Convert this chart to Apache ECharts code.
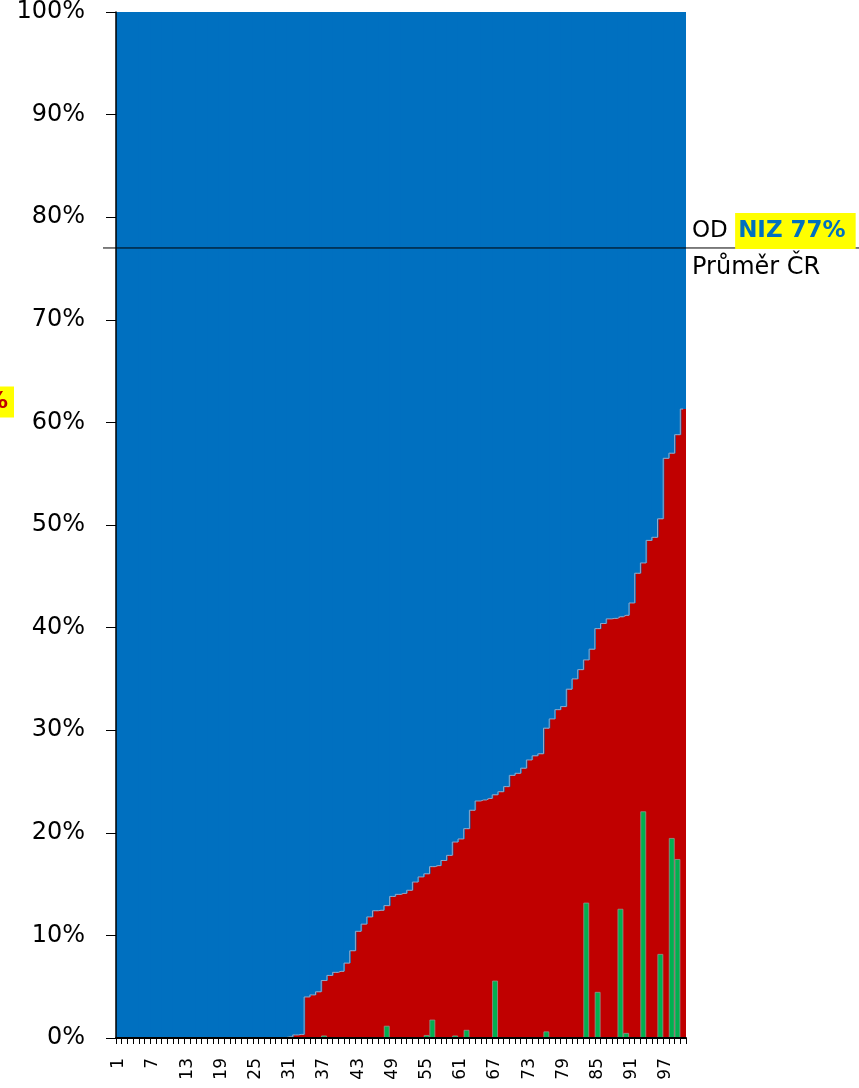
<!DOCTYPE html>
<html><head><meta charset="utf-8">
<script src="https://cdn.jsdelivr.net/npm/echarts@6/dist/echarts.min.js"></script>
<style>html,body{margin:0;padding:0;background:#fff}#c{width:859px;height:1088px}</style>
</head><body><div id="c"></div>
<script>
// ---- data ----
const categories = Array.from({length: 100}, (_, i) => String(i + 1));
const redShare = [
  0,0,0,0,0,0,0,0,0,0,
  0,0,0,0,0,0,0,0,0,0,
  0,0,0,0,0,0,0,0,0,0,
  0.1,0.3,0.35,4.0,4.2,4.5,5.6,6.1,6.4,6.5,
  7.3,8.5,10.4,11.1,11.8,12.4,12.45,12.9,13.8,14.0,
  14.1,14.4,15.2,15.7,16.0,16.7,16.8,17.3,17.8,19.1,
  19.4,20.4,22.2,23.1,23.2,23.35,23.7,24.0,24.5,25.6,
  25.8,26.3,27.1,27.5,27.7,30.2,31.1,32.0,32.3,34.0,
  35.0,35.9,36.85,37.9,39.9,40.4,40.85,40.9,41.05,41.2,
  42.4,45.3,46.3,48.5,48.8,50.6,56.5,57.0,58.8,61.3
];
const greenShare = [
  null,null,null,null,null,null,null,null,null,null,
  null,null,null,null,null,null,null,null,null,null,
  null,null,null,null,null,null,null,null,null,null,
  0.15,null,null,null,null,null,0.25,null,null,null,
  null,null,null,null,null,null,null,1.2,null,null,
  null,null,null,null,0.3,1.8,null,null,null,0.25,
  null,0.8,null,null,null,null,5.6,null,null,null,
  null,null,null,null,null,0.65,null,null,null,null,
  null,null,13.2,null,4.5,null,null,null,12.6,0.5,
  null,null,22.1,null,null,8.2,null,19.5,17.45,null
];
const blueShare = redShare.map(v => +(100 - v).toFixed(2));
const averageValue = 77;
const averagePrefix = 'OD ';
const averageName = 'NIZ 77%';
const averageSub = 'Průměr ČR';
const leftLabelText = '61%';

// ---- chart ----
const FONT = 'DejaVu Sans';
const BARW = 6.9;
const chart = echarts.init(document.getElementById('c'), null, {renderer: 'canvas'});
chart.setOption({
  animation: false,
  backgroundColor: '#ffffff',
  grid: [
    {left: 116, right: 173, top: 12, bottom: 50, outerBoundsMode: 'none'},
    {left: 103, right: 0, top: 12, bottom: 50, outerBoundsMode: 'none'}
  ],
  xAxis: [
    {type: 'category', data: categories, gridIndex: 0, z: 10,
     axisLine: {lineStyle: {color: '#000', width: 2}},
     axisTick: {show: true, interval: 0, length: 6, lineStyle: {color: '#000', width: 1}},
     axisLabel: {interval: 5, rotate: 90, margin: 20, color: '#000', fontFamily: FONT, fontSize: 17}},
    {type: 'value', gridIndex: 1, min: 0, max: 1, show: false}
  ],
  yAxis: [
    {type: 'value', gridIndex: 0, min: 0, max: 100, interval: 10, z: 10,
     axisLine: {show: true, lineStyle: {color: '#000', width: 1.5}},
     axisTick: {show: true, length: 10, lineStyle: {color: '#000', width: 1}},
     axisLabel: {formatter: '{value}%', margin: 31, color: '#000', fontFamily: FONT, fontSize: 24},
     splitLine: {show: false}},
    {type: 'value', gridIndex: 1, min: 0, max: 100, show: false}
  ],
  series: [
    {name: 'red', type: 'bar', stack: 'share', data: redShare,
     barWidth: BARW, barGap: '-100%',
     itemStyle: {color: '#C00000'}},
    {name: 'blue', type: 'bar', stack: 'share', data: blueShare,
     barWidth: BARW, itemStyle: {color: '#0070C0'}},
    {name: 'edge', type: 'line', data: redShare, step: 'middle', symbol: 'none', silent: true,
     lineStyle: {color: '#8fa8c8', width: 1}, z: 3},
    {name: 'green', type: 'bar', data: greenShare, barWidth: 6, barGap: '-100%',
     itemStyle: {color: '#00B050', borderColor: 'rgba(150,150,150,0.75)', borderWidth: 1}, z: 4},
    {name: 'avg', type: 'line', xAxisIndex: 1, yAxisIndex: 1, silent: true, symbol: 'none',
     data: [[0, averageValue], [1, averageValue]],
     lineStyle: {color: '#000', width: 1}, z: 6}
  ]
});

const yAvg = chart.convertToPixel({yAxisIndex: 0}, averageValue);
chart.setOption({
  graphic: [
    {type: 'text', x: 692, y: yAvg - 17, z: 20,
     style: {text: '{a|' + averagePrefix + '}{b|' + averageName + '}', verticalAlign: 'middle',
       rich: {
         a: {fill: '#000', fontFamily: FONT, fontSize: 23},
         b: {fill: '#0070C0', fontFamily: FONT, fontSize: 23, fontWeight: 'bold',
             backgroundColor: '#FFFF00', padding: [7, 10, 6, 3]}
       }}},
    {type: 'text', x: 692, y: yAvg + 20, z: 20,
     style: {text: averageSub, fill: '#000', fontFamily: FONT, fontSize: 24, verticalAlign: 'middle'}},
    {type: 'text', x: 14, y: 402, z: 20,
     style: {text: leftLabelText, fill: '#C00000', fontFamily: FONT, fontSize: 23, fontWeight: 'bold',
       align: 'right', verticalAlign: 'middle', backgroundColor: '#FFFF00', padding: [4, 6, 4, 3]}}
  ]
});
</script></body></html>
